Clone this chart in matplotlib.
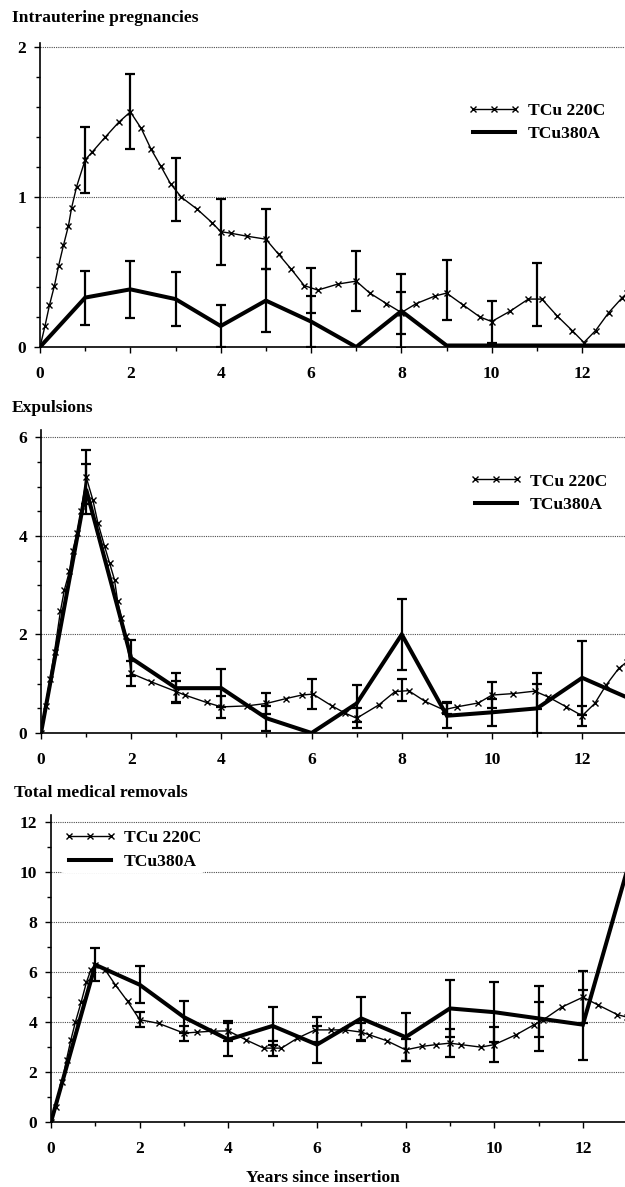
import matplotlib
matplotlib.use("Agg")
import matplotlib.pyplot as plt
from matplotlib.ticker import MultipleLocator

# ---- Intrauterine pregnancies ----
ip220_x = [0, 0.11, 0.21, 0.32, 0.41, 0.52, 0.63, 0.70, 0.81, 1.0,
           1.15, 1.44, 1.74, 2.0, 2.24, 2.46, 2.67, 2.89, 3.13, 3.48,
           3.81, 4.0, 4.22, 4.58, 5.0, 5.28, 5.56, 5.85, 6.15, 6.59,
           7.0, 7.3, 7.67, 8.0, 8.33, 8.74, 9.0, 9.37, 9.74, 10.0,
           10.41, 10.81, 11.11, 11.44, 11.78, 12.04, 12.3, 12.59, 12.89, 13.0]
ip220_y = [0, 0.14, 0.28, 0.41, 0.54, 0.68, 0.81, 0.93, 1.07, 1.25,
           1.30, 1.40, 1.50, 1.57, 1.46, 1.32, 1.21, 1.09, 1.00, 0.92,
           0.83, 0.77, 0.76, 0.74, 0.72, 0.62, 0.52, 0.41, 0.38, 0.42,
           0.44, 0.36, 0.29, 0.23, 0.29, 0.34, 0.36, 0.28, 0.20, 0.17,
           0.24, 0.32, 0.32, 0.21, 0.11, 0.03, 0.11, 0.23, 0.33, 0.36]
ip380_x = [0, 1, 2, 3, 4, 5, 6, 7, 8, 9, 10, 11, 12, 13]
ip380_y = [0, 0.33, 0.385, 0.32, 0.14, 0.31, 0.17, 0, 0.24, 0.01, 0.01, 0.01, 0.01, 0.01]
ip220_err_x = [1, 2, 3, 4, 5, 6, 7, 8, 9, 10, 11]
ip220_err_mid = [1.25, 1.57, 1.05, 0.77, 0.72, 0.38, 0.44, 0.23, 0.38, 0.17, 0.35]
ip220_err = [0.22, 0.25, 0.21, 0.22, 0.2, 0.15, 0.2, 0.14, 0.2, 0.14, 0.21]
ip380_err_x = [1, 2, 3, 4, 5, 6, 8]
ip380_err_mid = [0.33, 0.385, 0.32, 0.14, 0.31, 0.17, 0.24]
ip380_err = [0.18, 0.19, 0.18, 0.14, 0.21, 0.17, 0.25]

# ---- Expulsions ----
ex220_x = [0, 0.1, 0.2, 0.3, 0.43, 0.52, 0.63, 0.70, 0.80, 0.89,
           1.0, 1.15, 1.26, 1.41, 1.52, 1.63, 1.70, 1.78, 1.89, 2.0,
           2.44, 3.0, 3.19, 3.67, 4.0, 4.56, 5.0, 5.44, 5.78, 6.03,
           6.45, 6.75, 7.0, 7.49, 7.85, 8.15, 8.52, 8.93, 9.22, 9.70,
           10.0, 10.47, 10.95, 11.25, 11.65, 12.0, 12.28, 12.53, 12.81, 13.0]
ex220_y = [0, 0.55, 1.1, 1.65, 2.47, 2.91, 3.28, 3.69, 4.06, 4.5,
           5.2, 4.73, 4.27, 3.79, 3.45, 3.11, 2.67, 2.34, 1.96, 1.21,
           1.04, 0.84, 0.77, 0.62, 0.53, 0.55, 0.60, 0.70, 0.77, 0.79,
           0.55, 0.40, 0.30, 0.57, 0.84, 0.86, 0.64, 0.47, 0.53, 0.61,
           0.77, 0.80, 0.85, 0.73, 0.53, 0.35, 0.60, 0.97, 1.31, 1.45]
ex380_x = [0, 1, 2, 3, 4, 5, 6, 7, 8, 9, 10, 11, 12, 13]
ex380_y = [0, 4.95, 1.52, 0.91, 0.91, 0.3, 0, 0.6, 2.0, 0.35, 0.42, 0.5, 1.12, 0.72]
ex220_err_x = [1, 2, 3, 4, 5, 6, 7, 8, 9, 10, 11, 12]
ex220_err_mid = [5.2, 1.21, 0.84, 0.53, 0.60, 0.79, 0.30, 0.87, 0.5, 0.77, 0.85, 0.35]
ex220_err = [0.55, 0.25, 0.22, 0.23, 0.22, 0.3, 0.2, 0.23, 0.12, 0.27, 0.37, 0.2]
ex380_err_x = [1, 2, 3, 4, 5, 7, 8, 9, 10, 11, 12]
ex380_err_mid = [4.95, 1.52, 0.91, 0.91, 0.3, 0.6, 2.0, 0.35, 0.42, 0.5, 1.12]
ex380_err = [0.5, 0.37, 0.3, 0.38, 0.25, 0.37, 0.72, 0.25, 0.28, 0.5, 0.75]

# ---- Total medical removals ----
tm220_x = [0, 0.12, 0.25, 0.35, 0.45, 0.55, 0.68, 0.8, 0.9, 1.0,
           1.22, 1.45, 1.73, 2.0, 2.43, 3.0, 3.3, 3.65, 4.0, 4.4,
           4.8, 5.0, 5.2, 5.56, 5.96, 6.32, 6.63, 7.0, 7.17, 7.57,
           8.0, 8.38, 8.68, 9.0, 9.25, 9.7, 10.0, 10.5, 10.9, 11.11,
           11.52, 12.0, 12.33, 12.78, 13.0]
tm220_y = [0, 0.6, 1.6, 2.5, 3.3, 4.0, 4.8, 5.6, 6.1, 6.3,
           6.1, 5.5, 4.83, 4.1, 3.95, 3.56, 3.6, 3.64, 3.65, 3.29,
           2.96, 2.96, 2.96, 3.36, 3.69, 3.69, 3.69, 3.6, 3.5, 3.26,
           2.89, 3.03, 3.1, 3.16, 3.1, 3.0, 3.1, 3.5, 3.9, 4.1,
           4.6, 5.0, 4.7, 4.3, 4.2]
tm380_x = [0, 1, 2, 3, 4, 5, 6, 7, 8, 9, 10, 11, 12, 13]
tm380_y = [0, 6.3, 5.5, 4.2, 3.3, 3.85, 3.1, 4.15, 3.4, 4.55, 4.4, 4.15, 3.9, 10.1]
tm220_err_x = [1, 2, 3, 4, 5, 6, 7, 8, 9, 10, 11, 12]
tm220_err_mid = [6.3, 4.1, 3.56, 3.65, 2.96, 3.7, 3.6, 2.89, 3.16, 3.1, 4.1, 5.0]
tm220_err = [0.67, 0.3, 0.3, 0.4, 0.3, 0.5, 0.35, 0.45, 0.55, 0.7, 0.7, 1.05]
tm380_err_x = [2, 3, 4, 5, 6, 7, 8, 9, 10, 11, 12]
tm380_err_mid = [5.5, 4.2, 3.3, 3.85, 3.1, 4.15, 3.4, 4.55, 4.4, 4.15, 3.9]
tm380_err = [0.75, 0.65, 0.65, 0.75, 0.75, 0.85, 0.95, 1.15, 1.2, 1.3, 1.4]

labels = ["TCu 220C", "TCu380A"]

plt.rcParams['font.family'] = ['Liberation Serif', 'DejaVu Serif']
plt.rcParams['font.weight'] = 'bold'

W, H = 625, 1187
FS = 12.6


def ax_rect(left, top, bottom):
    # pixel box -> figure fraction
    return [left / W, 1 - bottom / H, 1 - left / W, (bottom - top) / H]


def draw_panel(ax, x220, y220, x380, y380, e220, e380, ymax, ymaj, ymin, leg_xy):
    l1, = ax.plot(x220, y220, color='black', lw=1.0, marker='x', ms=4.5, mew=1.0, zorder=4)
    l2, = ax.plot(x380, y380, color='black', lw=2.9, zorder=3, solid_joinstyle='miter')
    for ex, em, ee in (e220, e380):
        ax.errorbar(ex, em, yerr=ee, fmt='none', ecolor='black', elinewidth=1.6,
                    capsize=3.5, capthick=1.6, zorder=5)
    ax.set_xlim(0, 12.95)
    ax.set_ylim(0, ymax)
    ax.xaxis.set_major_locator(MultipleLocator(2))
    ax.xaxis.set_minor_locator(MultipleLocator(1))
    ax.yaxis.set_major_locator(MultipleLocator(ymaj))
    ax.yaxis.set_minor_locator(MultipleLocator(ymin))
    ax.yaxis.grid(True, which='major', linestyle=(0, (1, 1)), color='0.3', lw=0.8)
    ax.set_axisbelow(True)
    for s in ['top', 'right']:
        ax.spines[s].set_visible(False)
    ax.spines['left'].set_linewidth(1.2)
    ax.spines['bottom'].set_linewidth(1.2)
    ax.tick_params(axis='both', which='major', direction='out', length=4, width=1, labelsize=FS)
    ax.tick_params(axis='both', which='minor', direction='out', length=3, width=1)
    ax.tick_params(axis='y', pad=6)
    ax.tick_params(axis='x', pad=10)
    ax.legend([l1, l2], labels, loc='center left', bbox_to_anchor=leg_xy,
              frameon=True, edgecolor='none', facecolor='white', framealpha=1,
              borderpad=0.2, borderaxespad=0, handlelength=3.0, handletextpad=0.45,
              labelspacing=0.4, numpoints=3, prop={'weight': 'bold', 'size': FS})


fig = plt.figure(figsize=(W / 100, H / 100), dpi=100)

ax1 = fig.add_axes(ax_rect(40, 43, 347))
draw_panel(ax1, ip220_x, ip220_y, ip380_x, ip380_y,
           (ip220_err_x, ip220_err_mid, ip220_err), (ip380_err_x, ip380_err_mid, ip380_err),
           2.03, 1, 0.2, (0.725, 0.738))

ax2 = fig.add_axes(ax_rect(41, 430, 733))
draw_panel(ax2, ex220_x, ex220_y, ex380_x, ex380_y,
           (ex220_err_x, ex220_err_mid, ex220_err), (ex380_err_x, ex380_err_mid, ex380_err),
           6.15, 2, 0.5, (0.728, 0.792))

ax3 = fig.add_axes(ax_rect(51, 815, 1122))
draw_panel(ax3, tm220_x, tm220_y, tm380_x, tm380_y,
           (tm220_err_x, tm220_err_mid, tm220_err), (tm380_err_x, tm380_err_mid, tm380_err),
           12.3, 2, 1, (0.016, 0.886))

fig.text(12 / W, 1 - 18 / H, "Intrauterine pregnancies", fontsize=FS, fontweight='bold', va='center')
fig.text(12 / W, 1 - 408 / H, "Expulsions", fontsize=FS, fontweight='bold', va='center')
fig.text(14 / W, 1 - 793 / H, "Total medical removals", fontsize=FS, fontweight='bold', va='center')
fig.text(323 / W, 1 - 1178 / H, "Years since insertion", fontsize=FS, fontweight='bold',
         ha='center', va='center')

fig.savefig("out.png", dpi=100)
